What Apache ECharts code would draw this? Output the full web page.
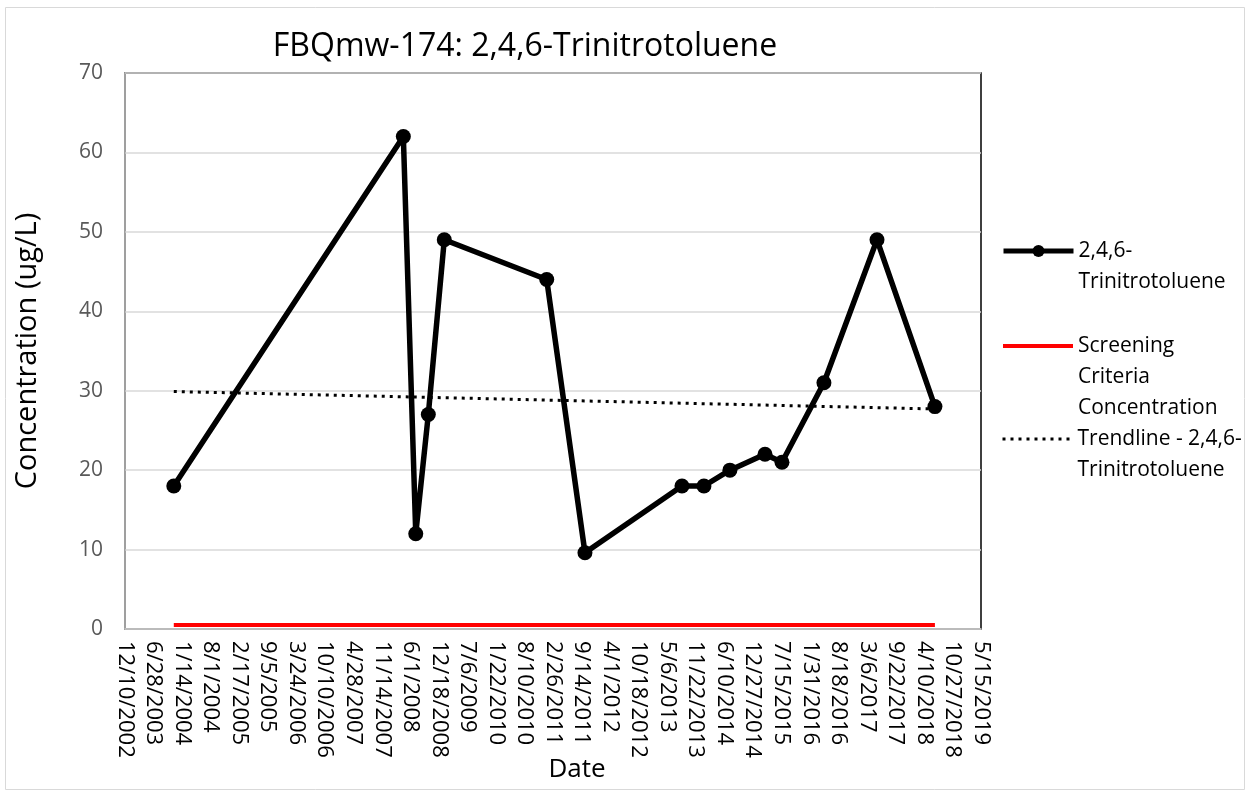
<!DOCTYPE html>
<html>
<head>
<meta charset="utf-8">
<script src="https://cdn.jsdelivr.net/npm/echarts@6/dist/echarts.min.js"></script>
<style>
  html, body { margin: 0; padding: 0; background: #fff; }
  #chart { width: 1251px; height: 796px; }
</style>
</head>
<body>
<div id="chart"></div>
<script>
// sample dates and concentrations
var sampleDates = ['2003-11-17', '2008-04-13', '2008-07-09', '2008-10-05', '2009-01-25',
  '2011-01-13', '2011-10-08', '2013-08-18', '2014-01-19', '2014-07-20',
  '2015-03-23', '2015-07-20', '2016-05-09', '2017-05-16', '2018-06-26'];
var sampleValues = [18, 62, 12, 27, 49, 44, 9.6, 18, 18, 20, 22, 21, 31, 49, 28];

var screenDates = ['2003-11-17', '2018-06-26'];
var screenValues = [0.5, 0.5];

var trendDates = ['2003-11-17', '2018-06-26'];
var trendValues = [29.9, 27.7];

var yTicks = [0, 10, 20, 30, 40, 50, 60, 70];

// excel style serial day numbers, so the 200 day ticks line up
var EPOCH = Date.UTC(1899, 11, 30);
function toSerial(s) {
  var p = s.split('-');
  return (Date.UTC(+p[0], +p[1] - 1, +p[2]) - EPOCH) / 86400000;
}
function serialLabel(v) {
  var d = new Date(EPOCH + v * 86400000);
  return (d.getUTCMonth() + 1) + '/' + d.getUTCDate() + '/' + d.getUTCFullYear();
}
function pairs(dates, vals) {
  return dates.map(function (d, i) { return [toSerial(d), vals[i]]; });
}

var legendLines = {
  '2,4,6-Trinitrotoluene': ['2,4,6-', 'Trinitrotoluene'],
  'Screening Criteria Concentration': ['Screening', 'Criteria', 'Concentration'],
  'Trendline - 2,4,6-Trinitrotoluene': ['Trendline - 2,4,6-', 'Trinitrotoluene']
};
var LH = 31;
// blank lines in front keep the first text line level with the icon
function legendFor(name, iconY, line, hideSymbol) {
  var rows = legendLines[name];
  var n = rows.length;
  var leg = {
    data: [name],
    left: 1001,
    top: iconY - (2 * n - 1) * LH / 2,
    padding: 0,
    itemWidth: 70,
    itemHeight: 15,
    itemGap: 7,
    selectedMode: false,
    formatter: function () {
      return new Array(n).join(' \n') + rows.join('\n');
    },
    lineStyle: line,
    textStyle: { fontFamily: 'Open Sans', fontSize: 21, color: '#000', lineHeight: LH }
  };
  if (hideSymbol) leg.itemStyle = { opacity: 0 };
  return leg;
}

var chart = echarts.init(document.getElementById('chart'));
chart.setOption({
  animation: false,
  title: {
    text: 'FBQmw-174: 2,4,6-Trinitrotoluene',
    left: 520, top: 26, textAlign: 'center',
    textStyle: { fontFamily: 'Open Sans', fontSize: 32, fontWeight: 'normal', color: '#000' }
  },
  legend: [
    legendFor('2,4,6-Trinitrotoluene', 251, { width: 5 }, false),
    legendFor('Screening Criteria Concentration', 346, { width: 4 }, true),
    legendFor('Trendline - 2,4,6-Trinitrotoluene', 439, { width: 3, type: [3, 5] }, true)
  ],
  graphic: [{
    type: 'rect', silent: true,
    shape: { x: 5.5, y: 7.5, width: 1239, height: 782 },
    style: { fill: 'none', stroke: '#d9d9d9', lineWidth: 1 }
  }],
  grid: {
    left: 125, right: 270, top: 73, bottom: 167,
    show: true, borderColor: '#000', borderWidth: 1.5
  },
  xAxis: {
    type: 'value',
    min: 37600, max: 43600, interval: 200,
    name: 'Date', nameLocation: 'middle', nameGap: 128, nameMoveOverlap: false,
    nameTextStyle: { fontFamily: 'Open Sans', fontSize: 26, color: '#000', padding: [0, 0, 0, 48] },
    axisLine: { lineStyle: { color: '#bfbfbf', width: 1.5 } },
    axisTick: { show: false },
    splitLine: { show: false },
    axisLabel: {
      rotate: -90, margin: 12,
      fontFamily: 'Open Sans', fontSize: 22, color: '#000',
      formatter: serialLabel
    }
  },
  yAxis: {
    type: 'value',
    min: yTicks[0], max: yTicks[yTicks.length - 1], interval: 10,
    name: 'Concentration (ug/L)', nameLocation: 'middle', nameGap: 83, nameMoveOverlap: false,
    nameTextStyle: { fontFamily: 'Open Sans', fontSize: 29, color: '#000' },
    axisLine: { show: true, lineStyle: { color: '#bfbfbf', width: 1.5 } },
    axisTick: { show: false },
    splitLine: { lineStyle: { color: '#d9d9d9', width: 1.5 } },
    axisLabel: { margin: 22, fontFamily: 'Open Sans', fontSize: 21, color: '#595959' }
  },
  series: [{
    name: '2,4,6-Trinitrotoluene',
    type: 'line',
    data: pairs(sampleDates, sampleValues),
    symbol: 'circle', symbolSize: 15,
    lineStyle: { color: '#000', width: 5.5 },
    itemStyle: { color: '#000' },
    z: 4
  }, {
    name: 'Screening Criteria Concentration',
    type: 'line',
    data: pairs(screenDates, screenValues),
    symbol: 'none',
    lineStyle: { color: '#ff0000', width: 4 },
    itemStyle: { color: '#ff0000' },
    z: 3
  }, {
    name: 'Trendline - 2,4,6-Trinitrotoluene',
    type: 'line',
    data: pairs(trendDates, trendValues),
    symbol: 'none',
    lineStyle: { color: '#000', width: 3, type: [3, 5] },
    itemStyle: { color: '#000' },
    z: 2
  }]
});
</script>
</body>
</html>
